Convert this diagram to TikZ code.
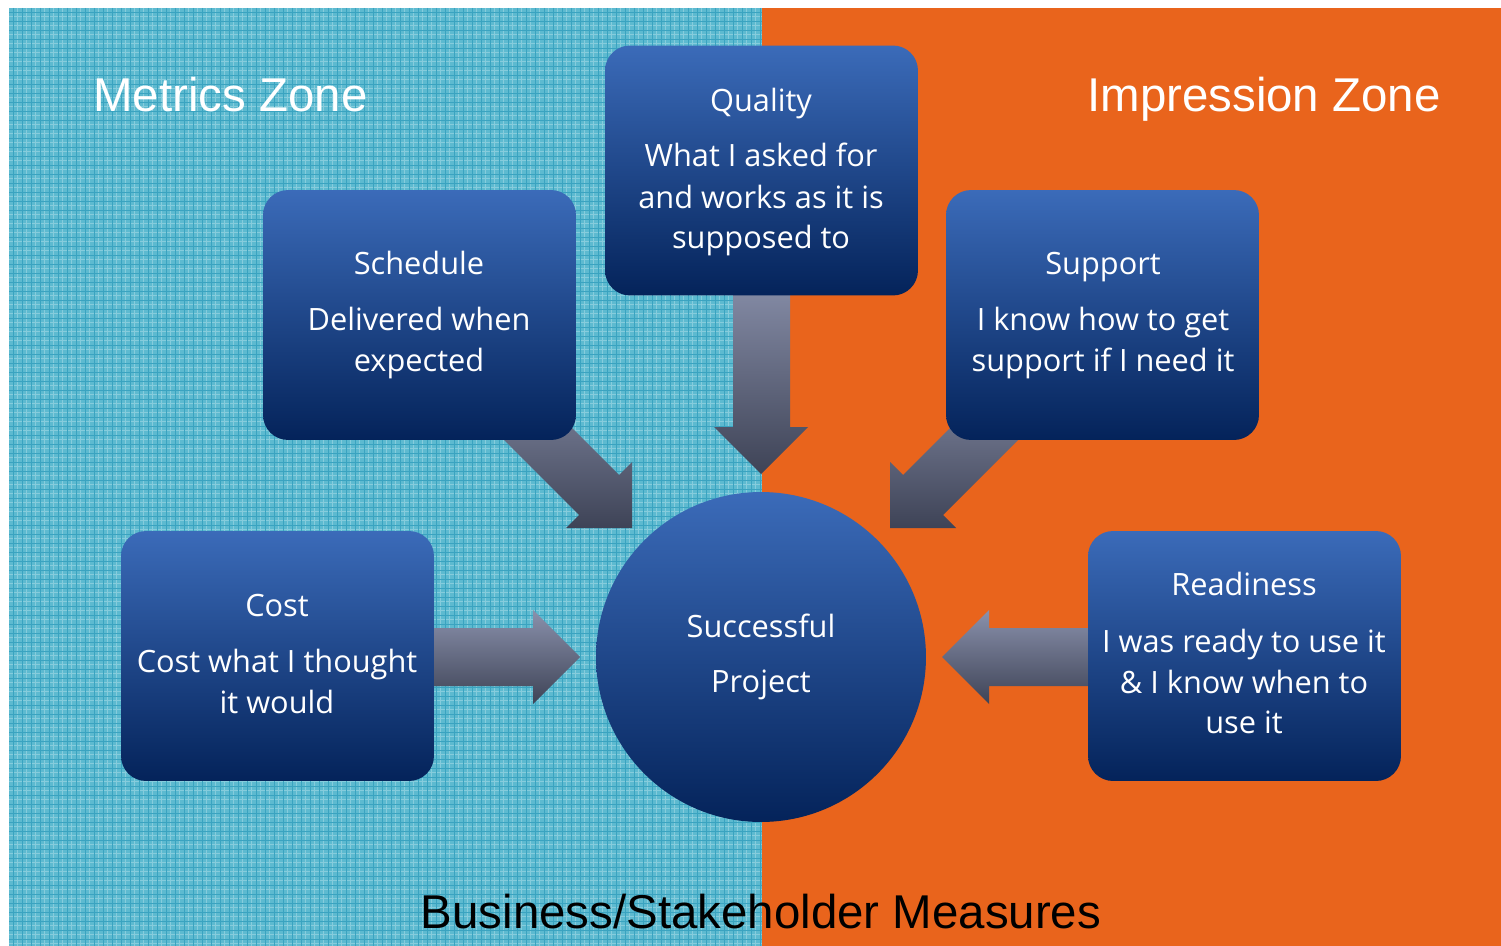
\documentclass[tikz,border=0pt]{standalone}
\usepackage{fontspec}
\setmainfont{Liberation Sans}
\newfontfamily\boxfont{Open Sans}
\definecolor{tealbase}{HTML}{5DBAD0}
\definecolor{tealline}{HTML}{3AA3C0}
\definecolor{teallight}{HTML}{86CCDC}
\definecolor{zoneorange}{HTML}{E9641C}
\definecolor{boxtop}{HTML}{3B6BB9}
\definecolor{boxbot}{HTML}{04235A}
\definecolor{arrtop}{HTML}{8A91AC}
\definecolor{arrbot}{HTML}{3E4356}
\tikzset{
  bluebox/.style={rounded corners=0.5cm, minimum width=6.26cm, minimum height=5.0cm,
    top color=boxtop, bottom color=boxbot, draw=none, inner sep=0pt},
  boxtxt/.style={text=white, font=\boxfont\fontsize{17.5}{21}\selectfont, inner sep=0pt, anchor=base},
  zonetxt/.style={text=white, font=\fontsize{27}{32}\selectfont, inner sep=0pt, anchor=base},
  blockarrow/.style={top color=arrtop, bottom color=arrbot, draw=none}
}
\begin{document}
\begin{tikzpicture}[x=0.02cm,y=-0.02cm]
\useasboundingbox (0,0) rectangle (1501,946);
% backgrounds
\fill[white] (0,0) rectangle (1501,946);
\fill[tealbase] (9,8) rectangle (762,946);
\foreach \g in {17,26,...,760} {\draw[teallight,line width=0.3pt] (\g,8) -- (\g,946);}
\foreach \g in {16,25,...,945} {\draw[teallight,line width=0.3pt] (9,\g) -- (762,\g);}
\foreach \g in {13,22,...,760} {\draw[tealline,line width=0.5pt] (\g,8) -- (\g,946);}
\foreach \g in {12,21,...,945} {\draw[tealline,line width=0.5pt] (9,\g) -- (762,\g);}
\fill[zoneorange] (762,8) rectangle (1501,946);
% zone titles
\node[zonetxt,anchor=base west] (metrics) at (93,112) {Metrics Zone};
\node[zonetxt,anchor=base east] (impression) at (1441,112) {Impression Zone};
% block arrows (drawn below the boxes)
\shade[blockarrow] (733,270) -- (733,427) -- (714,427) -- (761,474) -- (808,427) -- (790,427) -- (790,270) -- cycle;
\shade[blockarrow] (460,396) -- (579,515) -- (566,528) -- (632,528) -- (632,462) -- (619,475) -- (500,356) -- cycle;
\shade[blockarrow] (1062,396) -- (943,515) -- (956,528) -- (890,528) -- (890,462) -- (903,475) -- (1022,356) -- cycle;
\shade[blockarrow] (400,628) -- (533,628) -- (533,610) -- (580,657) -- (533,704) -- (533,686) -- (400,686) -- cycle;
\shade[blockarrow] (1120,628) -- (989,628) -- (989,610) -- (942,657) -- (989,704) -- (989,686) -- (1120,686) -- cycle;
% boxes
\node[bluebox] (quality) at (761.5,170.5) {};
\node[bluebox] (schedule) at (419.5,315) {};
\node[bluebox] (support) at (1102.5,315) {};
\node[bluebox] (cost) at (277.5,656) {};
\node[bluebox] (readiness) at (1244.5,656) {};
% circle
\node[circle, minimum size=6.6cm, top color=boxtop, bottom color=boxbot, draw=none, inner sep=0pt] (project) at (761,657) {};
% texts
\node[boxtxt] (q1) at (761,112) {Quality};
\node[boxtxt] (q2) at (761,167) {What I asked for};
\node[boxtxt] (q3) at (761,208) {and works as it is};
\node[boxtxt] (q4) at (761,248) {supposed to};
\node[boxtxt] (s1) at (419,274) {Schedule};
\node[boxtxt] (s2) at (419,330) {Delivered when};
\node[boxtxt] (s3) at (419,371) {expected};
\node[boxtxt] (u1) at (1103,274) {Support};
\node[boxtxt] (u2) at (1103,330) {I know how to get};
\node[boxtxt] (u3) at (1103,371) {support if I need it};
\node[boxtxt] (c1) at (277,616) {Cost};
\node[boxtxt] (c2) at (277,672) {Cost what I thought};
\node[boxtxt] (c3) at (277,713) {it would};
\node[boxtxt] (r1) at (1244,595) {Readiness};
\node[boxtxt] (r2) at (1244,652) {I was ready to use it};
\node[boxtxt] (r3) at (1244,693) {\& I know when to};
\node[boxtxt] (r4) at (1244,733) {use it};
\node[boxtxt] (p1) at (761,637) {Successful};
\node[boxtxt] (p2) at (761,692) {Project};
% bottom caption
\node[text=black, font=\fontsize{27}{32}\selectfont, inner sep=0pt, anchor=base] (measures) at (761,928) {Business/Stakeholder Measures};
\end{tikzpicture}
\end{document}
